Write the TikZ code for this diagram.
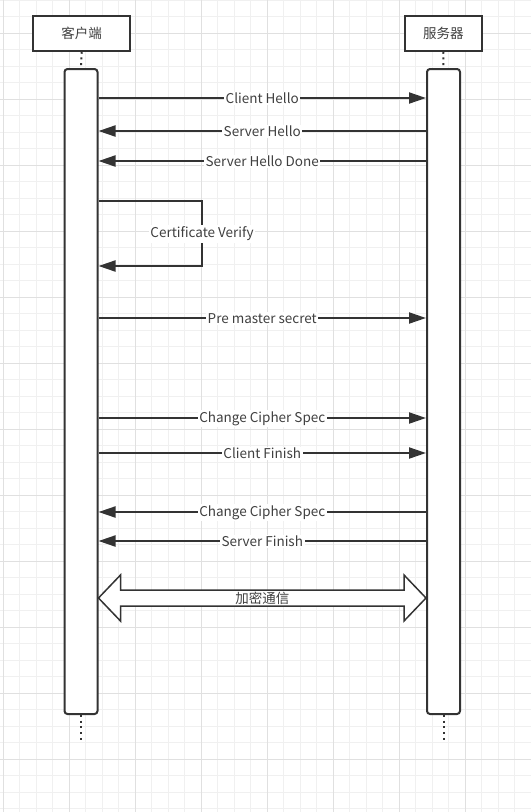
\documentclass[tikz,border=0pt]{standalone}
\usepackage{fontspec}
\setmainfont{Noto Sans CJK SC}
\usetikzlibrary{arrows.meta,calc}
\definecolor{ink}{HTML}{333333}
\definecolor{txt}{HTML}{404040}
\definecolor{gridminor}{HTML}{F0F0F0}
\definecolor{gridmajor}{HTML}{E0E0E0}

\begin{document}
\begin{tikzpicture}[x=1pt, y=-1pt,
  font=\fontsize{13.5}{15}\selectfont,
  actor/.style={draw=ink, line width=2pt, fill=white, text=txt,
    minimum height=34.5pt, inner sep=0pt},
  life/.style={draw=ink, line width=2pt, fill=white, rounded corners=3pt,
    minimum width=33pt, minimum height=645pt, inner sep=0pt},
  msg/.style={draw=ink, line width=2pt, -{Triangle[length=17pt, width=11pt]}},
  lbl/.style={fill=white, text=txt, inner sep=1.5pt, yshift=-0.5pt},
  dotline/.style={ink, line width=2pt, dash pattern=on 2pt off 3.7pt}]

  % === TLS handshake — sequence diagram ===

  \useasboundingbox (0,0) rectangle (531,812);

  % Background grid (minor, then major every 4th line)
  \def\gstep{16.5}
  \foreach \gx in {0,...,31} {
    \pgfmathsetmacro{\px}{3 + \gx * \gstep}
    \draw[gridminor, line width=1pt] (\px,0) -- (\px,812);
  }
  \foreach \gy in {0,...,49} {
    \pgfmathsetmacro{\py}{\gy * \gstep}
    \draw[gridminor, line width=1pt] (0,\py) -- (531,\py);
  }
  \foreach \gx in {0,...,7} {
    \pgfmathsetmacro{\px}{3 + \gx * 4 * \gstep}
    \draw[gridmajor, line width=1pt] (\px,0) -- (\px,812);
  }
  \foreach \gy in {0,...,11} {
    \pgfmathsetmacro{\py}{33 + \gy * 4 * \gstep}
    \draw[gridmajor, line width=1pt] (0,\py) -- (531,\py);
  }

  % Participants
  \node[actor, minimum width=97.5pt] (cb) at (81.7,33.5) {客户端};
  \node[actor, minimum width=77pt] (sb) at (443.3,33.5) {服务器};

  % Activation bars
  \node[life] (cl) at (81,391.5) {};
  \node[life] (sv) at (443.5,391.5) {};

  % Dotted lifeline stubs
  \coordinate (ce) at (81,740);
  \coordinate (se) at (443.5,740);
  \draw[dotline] (cb.south) -- (cl.north);
  \draw[dotline] (sb.south) -- (sv.north);
  \draw[dotline] (cl.south) -- (ce);
  \draw[dotline] (sv.south) -- (se);

  % Handshake messages
  \draw[msg] (cl.east |- 0,98) -- node[lbl] {Client Hello} (sv.west |- 0,98);
  \draw[msg] (sv.west |- 0,131) -- node[lbl] {Server Hello} (cl.east |- 0,131);
  \draw[msg] (sv.west |- 0,161) -- node[lbl] {Server Hello Done} (cl.east |- 0,161);

  % Self call
  \draw[msg] (cl.east |- 0,201) -- (202,201)
    -- node[lbl] {Certificate Verify} (202,266) -- (cl.east |- 0,266);

  \draw[msg] (cl.east |- 0,318) -- node[lbl] {Pre master secret} (sv.west |- 0,318);
  \draw[msg] (cl.east |- 0,418) -- node[lbl] {Change Cipher Spec} (sv.west |- 0,418);
  \draw[msg] (cl.east |- 0,453) -- node[lbl] {Client Finish} (sv.west |- 0,453);
  \draw[msg] (sv.west |- 0,512) -- node[lbl] {Change Cipher Spec} (cl.east |- 0,512);
  \draw[msg] (sv.west |- 0,541) -- node[lbl] {Server Finish} (cl.east |- 0,541);

  % Encrypted channel — double block arrow
  \coordinate (ea) at (cl.east |- 0,598);
  \coordinate (eb) at (sv.west |- 0,598);
  \draw[ink, line width=1.5pt, fill=white, line join=miter]
    (ea) -- ($(ea)+(22,-23)$) -- ($(ea)+(22,-8)$) -- ($(eb)+(-22,-8)$)
    -- ($(eb)+(-22,-23)$) -- (eb) -- ($(eb)+(-22,23)$) -- ($(eb)+(-22,8)$)
    -- ($(ea)+(22,8)$) -- ($(ea)+(22,23)$) -- cycle;
  \node[text=txt] (enc) at ($(ea)!0.5!(eb)$) {加密通信};

\end{tikzpicture}
\end{document}
